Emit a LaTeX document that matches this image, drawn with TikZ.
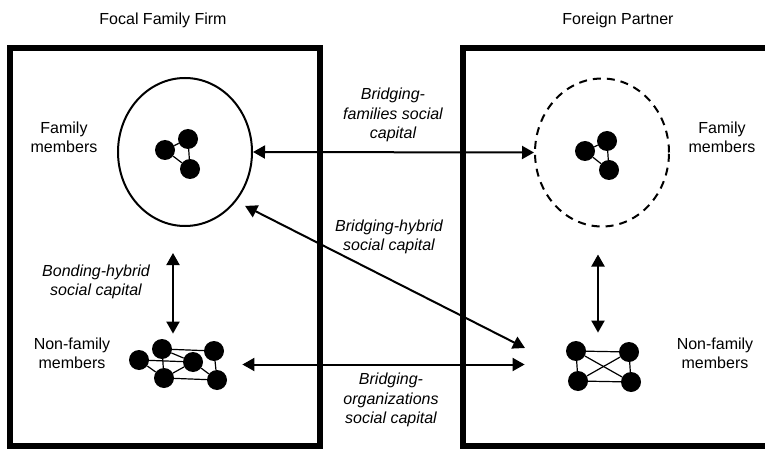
\documentclass[tikz,border=0pt]{standalone}
\usepackage{fontspec}
\setmainfont{Liberation Sans}
\usetikzlibrary{shapes.geometric, arrows.meta, positioning, fit, calc}

\begin{document}
\begin{tikzpicture}[x=1pt, y=-1pt, font=\fontsize{16}{19.3}\selectfont]
    \tikzstyle{frame} = [draw=black, line width=6pt]
    \tikzstyle{group} = [ellipse, draw=black, line width=2pt, minimum width=134pt, minimum height=148pt, inner sep=0pt]
    \tikzstyle{member} = [circle, fill=black, minimum size=20pt, inner sep=0pt]
    \tikzstyle{tie} = [line width=1.2pt]
    \tikzstyle{arrow} = [line width=2pt, <->, >={Triangle[length=12pt, width=13pt]}]
    \tikzstyle{note} = [align=center]
    \tikzstyle{capital} = [align=center, font=\fontsize{16}{19.3}\selectfont\itshape]

    \useasboundingbox (0,0) rectangle (765,449);
    \clip (0,0) rectangle (765,449);

    % the two firms
    \draw[frame] (10,48.5) rectangle (320,446);
    \draw[frame] (463,48.5) rectangle (780,446);
    \node[anchor=base] (firmL) at (163,24.5) {Focal Family Firm};
    \node[anchor=base] (firmR) at (618,24.5) {Foreign Partner};

    % family members
    \node[group] (famL) at (185,152) {};
    \node[group, dash pattern=on 8pt off 6pt] (famR) at (602,152.5) {};
    \node[member] (fL1) at (165,150) {};
    \node[member] (fL2) at (188,139) {};
    \node[member] (fL3) at (190,169) {};
    \node[member] (fR1) at (585,151) {};
    \node[member] (fR2) at (607,141) {};
    \node[member] (fR3) at (609,170) {};
    \draw[tie] (fL1) -- (fL2) -- (fL3) -- (fL1);
    \draw[tie] (fR1) -- (fR2) -- (fR3) -- (fR1);

    % non-family members
    \node[member] (nL1) at (139,360) {};
    \node[member] (nL2) at (162,349) {};
    \node[member] (nL3) at (164,378) {};
    \node[member] (nL4) at (193,362) {};
    \node[member] (nL5) at (214,351) {};
    \node[member] (nL6) at (217,380) {};
    \draw[tie] (nL1) -- (nL3) -- (nL2) -- (nL5) -- (nL6) -- (nL3);
    \draw[tie] (nL1) -- (nL4) -- (nL2);
    \draw[tie] (nL3) -- (nL4) -- (nL6);
    \node[member] (nR1) at (576,351) {};
    \node[member] (nR2) at (629,352) {};
    \node[member] (nR3) at (578,381) {};
    \node[member] (nR4) at (631,382) {};
    \draw[tie] (nR1) -- (nR2) -- (nR4) -- (nR3) -- (nR1) -- (nR4);
    \draw[tie] (nR2) -- (nR3);
    \node[fit=(nL1)(nL2)(nL3)(nL4)(nL5)(nL6), inner sep=0pt] (nfL) {};
    \node[fit=(nR1)(nR2)(nR3)(nR4), inner sep=0pt] (nfR) {};

    \node[note] (famLtxt) at (64,137) {Family\\members};
    \node[note] (famRtxt) at (722,137) {Family\\members};
    \node[note] (nfLtxt) at (72,353.5) {Non-family\\members};
    \node[note] (nfRtxt) at (715,353.5) {Non-family\\members};

    % social capital
    \coordinate (hybR) at (525,348);
    \draw[arrow] (famL.east) -- (famR.west);
    \draw[arrow, shorten <=10pt] (famL.-44) -- (hybR);
    \draw[arrow, shorten <=15pt, shorten >=41pt] (nfL.east) -- (nfL.east -| nfR.west);
    \draw[arrow, shorten <=26pt, shorten >=5pt] ([xshift=-12pt]famL.south) -- ([xshift=-5pt]nfL.north);
    \draw[arrow, shorten <=27pt, shorten >=8pt] ([xshift=-4pt]famR.south) -- ([xshift=-5.5pt]nfR.north);

    \node[capital] (bond) at (96,282) {Bonding-hybrid\\social capital};
    \node[capital] (bfam) at (393,115) {Bridging-\\families social\\capital};
    \node[capital] (bhyb) at (389,237) {Bridging-hybrid\\social capital};
    \node[capital] (borg) at (391,400) {Bridging-\\organizations\\social capital};
\end{tikzpicture}
\end{document}
